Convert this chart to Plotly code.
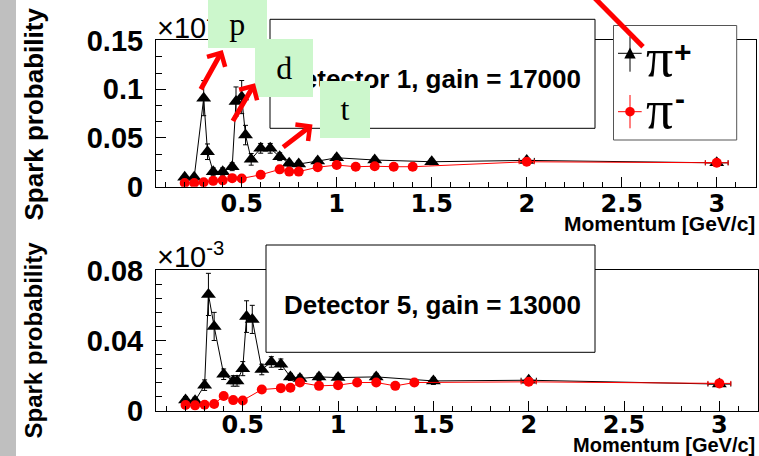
import plotly.graph_objects as go

W, H = 759, 456

# ---------------- data ----------------
momentum_pip = [0.2, 0.25, 0.3, 0.32, 0.35, 0.4, 0.45, 0.47, 0.5, 0.52, 0.55, 0.6, 0.65,
                0.7, 0.75, 0.8, 0.9, 1.0, 1.2, 1.5, 2.0, 3.0]
momentum_pim = [0.2, 0.25, 0.3, 0.35, 0.4, 0.45, 0.5, 0.6, 0.7, 0.75, 0.8, 0.9, 1.0,
                1.1, 1.2, 1.3, 1.4, 2.0, 3.0]

det1_pip = [0.0096, 0.0096, 0.0909, 0.0359, 0.0153, 0.0153, 0.0205, 0.0874, 0.092, 0.053,
            0.0281, 0.0394, 0.0394, 0.0308, 0.024, 0.0233, 0.0263, 0.0297, 0.0274, 0.0256,
            0.027, 0.0245]
det1_pip_err = [0.002, 0.002, 0.018, 0.008, 0.004, 0.004, 0.004, 0.015, 0.017, 0.010, 0.006,
                0.005, 0.005, 0.004, 0.003, 0.003, 0.003, 0.003, 0.003, 0.003, 0.002, 0.002]
det1_pim = [0.0038, 0.0038, 0.0045, 0.006, 0.0065, 0.0088, 0.0085, 0.0122, 0.0178, 0.0155,
            0.0155, 0.02, 0.0222, 0.0205, 0.021, 0.0205, 0.0205, 0.0256, 0.0246]

det5_pip = [0.0062, 0.0058, 0.0147, 0.0663, 0.0481, 0.0209, 0.0171, 0.0171, 0.0241, 0.0537,
            0.0521, 0.0236, 0.0279, 0.0266, 0.0194, 0.0185, 0.0194, 0.019, 0.0194, 0.0171,
            0.0175, 0.0153]
det5_pip_err = [0.002, 0.002, 0.003, 0.012, 0.008, 0.003, 0.003, 0.003, 0.004, 0.009, 0.008,
                0.003, 0.003, 0.003, 0.002, 0.002, 0.002, 0.002, 0.002, 0.002, 0.001, 0.001]
det5_pim = [0.0034, 0.0032, 0.0036, 0.004, 0.0085, 0.0062, 0.006, 0.0122, 0.013, 0.0132,
            0.0162, 0.0143, 0.0147, 0.0162, 0.0162, 0.0143, 0.0162, 0.0166, 0.0157]

pim_err = [0.001] * len(momentum_pim)
pip_xerr = [0.0] * 20 + [0.04, 0.06]
pim_xerr = [0.0] * 17 + [0.04, 0.06]

panel_titles = ["Detector 1, gain = 17000", "Detector 5, gain = 13000"]
x_title = "Momentum [GeV/c]"
y_title = "Spark probability"
x_ticks = [0.5, 1, 1.5, 2, 2.5, 3]


def X(px):
    return px / W


def Y(py):
    return 1 - py / H


fig = go.Figure()


def add_panel(xa, ya, pip, pip_err, pim):
    fig.add_trace(go.Scatter(
        x=momentum_pip, y=pip, xaxis=xa, yaxis=ya, mode="lines+markers",
        line=dict(color="black", width=1),
        marker=dict(symbol="triangle-up", size=13, color="black"),
        error_y=dict(type="data", array=pip_err, color="black", thickness=1, width=2.5),
        error_x=dict(type="data", array=pip_xerr, color="black", thickness=1, width=2.5),
        showlegend=False))
    fig.add_trace(go.Scatter(
        x=momentum_pim, y=pim, xaxis=xa, yaxis=ya, mode="lines+markers",
        line=dict(color="red", width=1),
        marker=dict(symbol="circle", size=10, color="red"),
        error_y=dict(type="data", array=pim_err, color="red", thickness=1, width=2.5),
        error_x=dict(type="data", array=pim_xerr, color="red", thickness=1, width=2.5),
        showlegend=False))


add_panel("x", "y", det1_pip, det1_pip_err, det1_pim)
add_panel("x2", "y2", det5_pip, det5_pip_err, det5_pim)

xt_font = dict(family="DejaVu Sans", size=24, color="black", weight="bold")
yt_font = dict(family="Liberation Sans, Arial", size=29, color="black", weight="bold")

common_x = dict(showline=True, linecolor="black", linewidth=1, mirror=True,
                ticks="inside", ticklen=10, tickwidth=1, tickcolor="black",
                tickmode="array", tickvals=x_ticks,
                minor=dict(ticks="inside", ticklen=5, dtick=0.1, tick0=0,
                           tickcolor="black", tickwidth=1, showgrid=False),
                showgrid=False, zeroline=False, tickfont=xt_font)
common_y = dict(showline=True, linecolor="black", linewidth=1, mirror=True,
                ticks="inside", ticklen=10, tickwidth=1, tickcolor="black",
                showgrid=False, zeroline=False, tickfont=yt_font, ticklabelstandoff=6)

fig.update_layout(
    xaxis=dict(domain=[X(156), X(755.5)], range=[0.049, 3.204], anchor="y",
               ticklabelstandoff=-5, **common_x),
    yaxis=dict(domain=[Y(186.7), Y(40)], range=[0, 0.1506], anchor="x", dtick=0.05, tick0=0,
               minor=dict(ticks="inside", ticklen=6, dtick=0.05 / 3, tick0=0,
                          tickcolor="black", tickwidth=1, showgrid=False),
               **common_y),
    xaxis2=dict(domain=[X(156), X(757.5)], range=[0.045, 3.2], anchor="y2",
                ticklabelstandoff=-8, **common_x),
    yaxis2=dict(domain=[Y(411), Y(270)], range=[0, 0.0802], anchor="x2", dtick=0.04, tick0=0,
                minor=dict(ticks="inside", ticklen=6, dtick=0.008, tick0=0,
                           tickcolor="black", tickwidth=1, showgrid=False),
                **common_y),
)

shapes = []
# grey strip on the left
shapes.append(dict(type="rect", xref="paper", yref="paper", x0=0, x1=X(16), y0=0, y1=1,
                   fillcolor="#bfbfbf", line=dict(width=0), layer="below"))
# detector text boxes
for (x0, y0, x1, y1) in [(270, 19.3, 595, 128.3), (266, 245, 595, 352.3)]:
    shapes.append(dict(type="rect", xref="paper", yref="paper", x0=X(x0), x1=X(x1),
                       y0=Y(y1), y1=Y(y0), fillcolor="white",
                       line=dict(color="black", width=1), layer="above"))
# legend box
shapes.append(dict(type="rect", xref="paper", yref="paper", x0=X(613.5), x1=X(736.7),
                   y0=Y(140), y1=Y(25.5), fillcolor="white",
                   line=dict(color="#555555", width=1), layer="above"))
# legend error crosses
for (xa, ya, xb, yb, c) in [(630, 36.7, 630, 71.7, "black"), (618, 53.3, 641.7, 53.3, "black"),
                            (630, 95, 630, 128.3, "red"), (618, 111.7, 641.7, 111.7, "red")]:
    shapes.append(dict(type="line", xref="paper", yref="paper", x0=X(xa), y0=Y(ya),
                       x1=X(xb), y1=Y(yb), line=dict(color=c, width=1), layer="above"))
# legend marker symbols
shapes.append(dict(type="path", xref="paper", yref="paper",
                   path="M {} {} L {} {} L {} {} Z".format(X(624.3), Y(58.5), X(635.7), Y(58.5),
                                                           X(630), Y(47.5)),
                   fillcolor="black", line=dict(color="black", width=0), layer="above"))
shapes.append(dict(type="circle", xref="paper", yref="paper", x0=X(625.2), x1=X(634.8),
                   y0=Y(116.5), y1=Y(106.9), fillcolor="red",
                   line=dict(color="red", width=0), layer="above"))
# red line leaving the top of the picture
shapes.append(dict(type="line", xref="paper", yref="paper", x0=X(643), y0=Y(46.7),
                   x1=X(590), y1=Y(-6.7), line=dict(color="red", width=5), layer="above"))

annotations = []


def text_ann(text, cx, cy, size, family, weight="normal", color="black", xanchor="center",
             angle=0):
    annotations.append(dict(x=X(cx), y=Y(cy), xref="paper", yref="paper", text=text,
                            showarrow=False, xanchor=xanchor, yanchor="middle",
                            textangle=angle,
                            font=dict(family=family, size=size, color=color, weight=weight)))


sans = "Liberation Sans, Arial"
serif = "Liberation Serif, Times New Roman"

# y titles
text_ann(y_title, 33, 114.5, 26, sans, "bold", angle=-90)
text_ann(y_title, 33, 340.5, 24, sans, "bold", angle=-90)
# x titles
text_ann(x_title, 757, 223.5, 21, sans, "bold", xanchor="right")
text_ann(x_title, 757, 444.5, 20, sans, "bold", xanchor="right")
# exponent labels
text_ann("×10<sup>-3</sup>", 155, 26, 29, sans, xanchor="left")
text_ann("×10<sup>-3</sup>", 155, 255, 29, sans, xanchor="left")
# panel titles
text_ann(panel_titles[0], 432.5, 79.5, 26, sans, "bold")
text_ann(panel_titles[1], 432.5, 305, 26, sans, "bold")
# legend texts
text_ann("π", 659, 58.5, 54, serif)
text_ann("+", 683, 51.5, 30, sans, "bold")
text_ann("π", 659, 110.3, 54, serif)
text_ann("-", 680, 98, 30, sans, "bold")

# green particle labels
for (lab, x0, y0, x1, y1) in [("p", 208, 0, 266.7, 47.7), ("d", 254.3, 38.3, 312.7, 96.7),
                              ("t", 320, 81.7, 370, 138.3)]:
    annotations.append(dict(x=X((x0 + x1) / 2), y=Y((y0 + y1) / 2), xref="paper", yref="paper",
                            text=lab, showarrow=False, xanchor="center", yanchor="middle",
                            width=x1 - x0, height=y1 - y0, bgcolor="#ccf7cc",
                            borderpad=0, borderwidth=0,
                            font=dict(family=serif, size=32, color="black")))

# red arrows
for (hx, hy, tx, ty) in [(222.7, 50, 200, 90.7), (255, 83.3, 232, 122.5),
                         (312.5, 124.5, 281.7, 148.3)]:
    annotations.append(dict(x=X(hx), y=Y(hy), xref="paper", yref="paper", text="",
                            showarrow=True, ax=tx - hx, ay=ty - hy, arrowhead=4,
                            arrowsize=0.8, arrowwidth=5, arrowcolor="red", standoff=0))

fig.update_layout(
    shapes=shapes, annotations=annotations,
    width=W, height=H, margin=dict(l=0, r=0, t=0, b=0),
    paper_bgcolor="white", plot_bgcolor="white", template="none",
    showlegend=False,
)

fig.write_html("out.html")
